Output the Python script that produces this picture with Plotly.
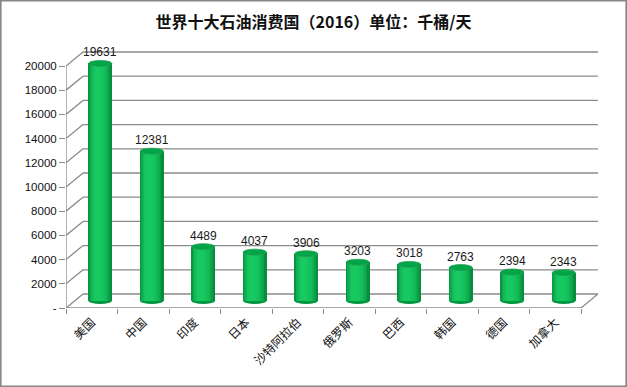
import plotly.graph_objects as go

# ---- data ----
categories = ["美国", "中国", "印度", "日本", "沙特阿拉伯", "俄罗斯", "巴西", "韩国", "德国", "加拿大"]
values = [19631, 12381, 4489, 4037, 3906, 3203, 3018, 2763, 2394, 2343]
y_ticks = [0, 2000, 4000, 6000, 8000, 10000, 12000, 14000, 16000, 18000, 20000]
y_tick_labels = ["-"] + [str(v) for v in y_ticks[1:]]
title_text = "世界十大石油消费国（2016）单位：千桶/天"

# ---- geometry (pixels) ----
W, H = 627, 387
L = 66            # front-left axis x
S = 51.5          # pixels per category
DXP = 8.5         # half depth offset x
DYP = 7           # half depth offset y
R = L + 10 * S + 2 * DXP
B = 308           # front floor y
T = 44
PXU = 242 / 20000  # pixels per value unit
n = len(categories)
d = DXP / S
dyu = DYP / PXU
plot_h = B - T
xr = [-0.5 - d, n - 0.5 + d]
yr = [-dyu, -dyu + plot_h / PXU]

fig = go.Figure()

# cylinder bars built from stripes of a gradient
w = 0.45
N = 16
dark = (0, 118, 48)
bright = (24, 202, 98)
xs = list(range(n))
for k in range(N):
    t = (k + 0.5) / N
    pk = 0.38
    u = (t - pk) / (pk if t < pk else 1 - pk)
    b = max(0.0, 1 - u * u) ** 0.55
    col = tuple(int(dark[j] + (bright[j] - dark[j]) * b) for j in range(3))
    fig.add_trace(go.Bar(
        x=xs, y=values, width=w / N * 1.25, offset=-w / 2 + k * w / N,
        marker=dict(color="rgb(%d,%d,%d)" % col, line=dict(width=0)),
        hoverinfo="skip", showlegend=False, xaxis="x", yaxis="y"))

# invisible trace to define front category axis
fig.add_trace(go.Scatter(x=categories, y=[0] * n, mode="markers",
                         marker=dict(opacity=0), hoverinfo="skip",
                         showlegend=False, xaxis="x2", yaxis="y2"))

shapes = []
gcol = "#8a8a8a"
# back wall gridlines and side-wall diagonals
for v in y_ticks:
    shapes.append(dict(type="line", xref="x", yref="y", layer="below",
                       x0=-0.5 + d, x1=n - 0.5 + d, y0=v + dyu, y1=v + dyu,
                       line=dict(color=gcol, width=1.3)))
    shapes.append(dict(type="line", xref="x", yref="y", layer="below",
                       x0=-0.5 - d, x1=-0.5 + d, y0=v - dyu, y1=v + dyu,
                       line=dict(color=gcol, width=1.3)))
# front axis line
shapes.append(dict(type="line", xref="x", yref="y", layer="below",
                   x0=-0.5 - d, x1=-0.5 - d, y0=-dyu, y1=y_ticks[-1] - dyu,
                   line=dict(color=gcol, width=1.3)))
# front floor edge and right floor diagonal
shapes.append(dict(type="line", xref="x", yref="y", layer="below",
                   x0=-0.5 - d, x1=n - 0.5 - d, y0=-dyu, y1=-dyu,
                   line=dict(color=gcol, width=1.3)))
shapes.append(dict(type="line", xref="x", yref="y", layer="below",
                   x0=n - 0.5 - d, x1=n - 0.5 + d, y0=-dyu, y1=dyu,
                   line=dict(color=gcol, width=1.3)))

e = 3.0 / PXU
for i, v in enumerate(values):
    # bottom rounded base
    shapes.append(dict(type="circle", xref="x", yref="y", layer="below",
                       x0=i - w / 2, x1=i + w / 2, y0=-e, y1=e,
                       fillcolor="rgb(0,150,64)", line=dict(width=0)))
    # top face
    shapes.append(dict(type="circle", xref="x", yref="y", layer="above",
                       x0=i - w / 2, x1=i + w / 2, y0=v - e, y1=v + e,
                       fillcolor="rgb(0,165,72)",
                       line=dict(color="rgb(40,160,85)", width=0.8)))

# outer border
def px_x(p):
    return (p - L) / (R - L)

def px_y(p):
    return (B - p) / plot_h

shapes.append(dict(type="rect", xref="paper", yref="paper", layer="above",
                   x0=px_x(0.8), x1=px_x(W - 0.8), y0=px_y(0.8), y1=px_y(H - 0.8),
                   line=dict(color="#878787", width=1.6)))

annotations = []
for i, v in enumerate(values):
    annotations.append(dict(x=i, y=v, xref="x", yref="y", text=str(v),
                            showarrow=False, yanchor="bottom", yshift=2,
                            font=dict(family="Liberation Sans, Arial", size=12, color="#1a1a1a")))

fig.update_layout(
    width=W, height=H,
    margin=dict(l=L, r=W - R, t=T, b=H - B, pad=0, autoexpand=False),
    paper_bgcolor="white", plot_bgcolor="rgba(0,0,0,0)",
    barmode="overlay", bargap=0,
    showlegend=False,
    title=dict(text="<b>" + title_text + "</b>", x=0.5, xref="container",
               y=1 - 22 / H, yref="container", yanchor="middle", xanchor="center",
               automargin=False,
               font=dict(family="Noto Sans CJK SC", size=16, color="#111")),
    xaxis=dict(range=xr, visible=False, fixedrange=True, automargin=False),
    yaxis=dict(range=yr, visible=False, fixedrange=True, automargin=False),
    xaxis2=dict(overlaying="x", type="category", categoryorder="array",
                categoryarray=categories, range=[-0.5, n - 0.5 + 2 * d],
                side="bottom", anchor="y2", automargin=False,
                showgrid=False, zeroline=False, showline=False,
                ticks="outside", ticklen=5, tickcolor=gcol, tickwidth=1.3,
                tickson="boundaries", tickangle=-45, ticklabelstandoff=4,
                tickfont=dict(family="Noto Sans CJK SC", size=12, color="#111")),
    yaxis2=dict(overlaying="y", range=[0, plot_h / PXU], anchor="x2", side="left",
                automargin=False,
                tickvals=y_ticks, ticktext=y_tick_labels,
                showgrid=False, zeroline=False, showline=False,
                ticks="outside", ticklen=6, tickcolor=gcol, tickwidth=1.3,
                tickfont=dict(family="Liberation Sans, Arial", size=11.5, color="#111")),
    shapes=shapes,
    annotations=annotations,
)

fig.write_html("out.html", config={"displayModeBar": False},
               post_script="document.body.style.margin='0';document.body.style.overflow='hidden';")
